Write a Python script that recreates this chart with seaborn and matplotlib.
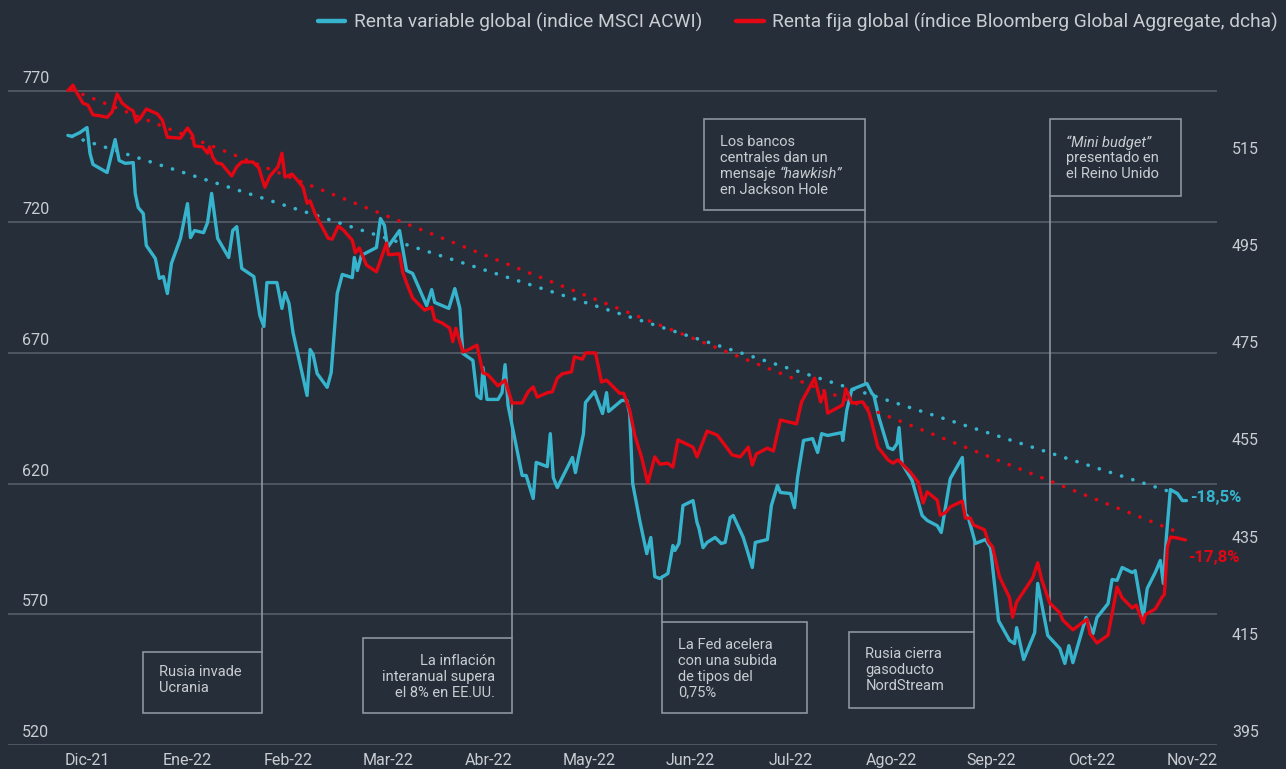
import matplotlib
matplotlib.use("Agg")
import matplotlib.pyplot as plt
import seaborn as sns
from matplotlib.lines import Line2D
from matplotlib.patches import Rectangle

# x in months (0 = Dic-21)
months = ['Dic-21', 'Ene-22', 'Feb-22', 'Mar-22', 'Abr-22', 'May-22', 'Jun-22',
          'Jul-22', 'Ago-22', 'Sep-22', 'Oct-22', 'Nov-22']

acwi_x = [-0.19, -0.15, -0.07, 0.00, 0.03, 0.06, 0.20, 0.28, 0.32, 0.38,
          0.46, 0.48, 0.51, 0.56, 0.59, 0.68, 0.72, 0.76, 0.80, 0.84,
          0.93, 1.00, 1.03, 1.07, 1.16, 1.20, 1.24, 1.30, 1.41, 1.45,
          1.49, 1.54, 1.66, 1.72, 1.76, 1.79, 1.89, 1.94, 1.97, 2.01,
          2.05, 2.19, 2.22, 2.25, 2.29, 2.39, 2.43, 2.49, 2.54, 2.64,
          2.66, 2.69, 2.73, 2.88, 2.92, 2.96, 2.99, 3.11, 3.18, 3.24,
          3.38, 3.43, 3.46, 3.60, 3.66, 3.71, 3.74, 3.84, 3.88, 3.92,
          3.94, 3.98, 4.09, 4.13, 4.16, 4.19, 4.26, 4.33, 4.37, 4.44,
          4.47, 4.58, 4.61, 4.64, 4.68, 4.83, 4.86, 4.89, 4.94, 4.96,
          5.05, 5.13, 5.17, 5.19, 5.32, 5.37, 5.40, 5.43, 5.50, 5.57,
          5.61, 5.65, 5.70, 5.78, 5.83, 5.85, 5.89, 5.93, 6.03, 6.07,
          6.09, 6.13, 6.17, 6.25, 6.31, 6.35, 6.40, 6.43, 6.53, 6.57,
          6.62, 6.65, 6.77, 6.81, 6.87, 6.90, 7.00, 7.04, 7.07, 7.13,
          7.22, 7.27, 7.31, 7.37, 7.51, 7.52, 7.56, 7.61, 7.76, 7.81,
          7.83, 7.88, 7.97, 8.02, 8.06, 8.08, 8.11, 8.21, 8.31, 8.36,
          8.46, 8.50, 8.59, 8.71, 8.74, 8.77, 8.84, 8.94, 8.99, 9.07,
          9.18, 9.23, 9.25, 9.32, 9.43, 9.46, 9.56, 9.68, 9.73, 9.77,
          9.81, 9.94, 10.01, 10.05, 10.16, 10.20, 10.25, 10.30, 10.40, 10.43,
          10.51, 10.55, 10.63, 10.68, 10.71, 10.74, 10.78, 10.85, 10.90, 10.94]
acwi_y = [753.2, 752.8, 754.3, 756.2, 746.3, 742.1, 739.0, 751.6, 743.6, 742.5,
          742.8, 731.0, 725.6, 723.3, 711.1, 706.1, 698.5, 699.2, 692.7, 704.2,
          713.8, 727.1, 714.1, 716.8, 716.0, 719.9, 731.0, 713.8, 706.5, 716.8,
          718.3, 702.3, 699.2, 684.3, 680.1, 696.9, 696.9, 687.0, 693.1, 688.9,
          677.8, 653.7, 671.3, 669.4, 662.1, 656.8, 662.5, 692.7, 700.0, 698.8,
          706.5, 701.5, 707.3, 710.3, 721.4, 718.7, 710.3, 716.8, 701.5, 700.4,
          688.1, 694.2, 689.3, 687.0, 694.6, 687.0, 669.8, 667.1, 653.7, 652.5,
          664.4, 652.2, 652.2, 654.8, 665.5, 649.9, 636.5, 623.1, 623.1, 614.3,
          628.1, 626.5, 639.1, 622.3, 618.5, 630.0, 624.2, 630.0, 639.1, 651.0,
          655.2, 646.8, 654.8, 647.6, 651.8, 651.8, 646.8, 620.0, 605.9, 593.2,
          599.4, 584.4, 583.7, 585.6, 596.3, 594.4, 597.1, 611.6, 613.5, 605.1,
          602.8, 595.5, 597.5, 599.4, 597.1, 597.5, 607.0, 607.8, 599.4, 594.4,
          587.9, 597.5, 598.6, 611.6, 619.3, 616.6, 616.2, 610.8, 622.3, 636.5,
          637.2, 631.9, 639.1, 638.4, 639.5, 636.5, 648.0, 656.0, 658.3, 654.5,
          653.7, 645.3, 633.8, 633.0, 635.3, 641.4, 627.7, 621.2, 607.8, 605.9,
          603.9, 601.3, 621.9, 630.0, 608.5, 607.0, 597.1, 598.6, 595.5, 567.6,
          560.0, 558.8, 564.9, 552.7, 563.0, 581.8, 561.9, 556.9, 551.2, 558.0,
          551.5, 568.8, 562.6, 568.8, 574.1, 583.3, 583.0, 587.9, 586.0, 586.7,
          568.8, 579.9, 586.0, 590.6, 581.8, 599.4, 617.7, 616.2, 613.5, 613.5]

bbg_x = [-0.19, -0.14, -0.10, -0.04, 0.01, 0.06, 0.13, 0.20, 0.25, 0.30,
         0.35, 0.41, 0.46, 0.49, 0.53, 0.59, 0.70, 0.75, 0.80, 0.93,
         1.00, 1.05, 1.07, 1.15, 1.20, 1.22, 1.25, 1.29, 1.34, 1.44,
         1.49, 1.54, 1.65, 1.71, 1.74, 1.77, 1.82, 1.90, 1.94, 1.97,
         2.04, 2.10, 2.15, 2.19, 2.22, 2.27, 2.34, 2.40, 2.44, 2.50,
         2.55, 2.64, 2.67, 2.71, 2.78, 2.88, 2.98, 3.00, 3.11, 3.14,
         3.18, 3.24, 3.36, 3.43, 3.46, 3.53, 3.61, 3.64, 3.67, 3.74,
         3.79, 3.88, 3.94, 3.99, 4.09, 4.16, 4.23, 4.33, 4.39, 4.44,
         4.48, 4.58, 4.63, 4.68, 4.73, 4.82, 4.85, 4.93, 4.96, 5.06,
         5.12, 5.17, 5.30, 5.34, 5.40, 5.45, 5.52, 5.58, 5.65, 5.70,
         5.78, 5.83, 5.88, 6.03, 6.07, 6.17, 6.27, 6.33, 6.42, 6.50,
         6.58, 6.62, 6.66, 6.77, 6.83, 6.90, 7.06, 7.11, 7.24, 7.30,
         7.34, 7.37, 7.52, 7.55, 7.61, 7.72, 7.78, 7.81, 7.87, 7.97,
         8.02, 8.07, 8.19, 8.27, 8.32, 8.36, 8.46, 8.49, 8.54, 8.59,
         8.71, 8.74, 8.79, 8.82, 8.93, 8.97, 9.01, 9.08, 9.18, 9.21,
         9.25, 9.41, 9.46, 9.50, 9.58, 9.68, 9.71, 9.81, 9.95, 9.98,
         10.05, 10.16, 10.25, 10.30, 10.40, 10.44, 10.51, 10.53, 10.63, 10.70,
         10.72, 10.75, 10.78, 10.85, 10.93]
bbg_y = [529.7, 530.8, 529.2, 527.1, 526.7, 524.7, 524.5, 524.2, 525.3, 529.0,
         527.1, 526.1, 525.5, 523.2, 524.0, 525.9, 524.9, 523.6, 520.1, 519.9,
         522.0, 520.5, 518.3, 518.1, 516.8, 518.1, 516.0, 514.8, 514.6, 512.1,
         514.0, 515.0, 515.0, 513.8, 511.7, 509.8, 512.1, 514.0, 516.8, 511.9,
         512.5, 511.1, 509.8, 506.5, 507.0, 504.3, 501.6, 499.3, 499.1, 501.8,
         501.0, 498.9, 496.3, 497.3, 493.8, 492.4, 498.3, 495.9, 496.1, 492.4,
         490.1, 487.0, 484.5, 485.1, 482.5, 481.9, 480.8, 478.0, 480.8, 475.9,
         476.3, 477.3, 471.6, 471.2, 468.9, 470.1, 465.4, 465.4, 467.7, 468.7,
         466.6, 467.5, 467.7, 470.5, 471.4, 471.8, 474.9, 474.4, 475.7, 475.7,
         469.7, 470.1, 467.4, 467.4, 463.9, 458.8, 454.1, 448.9, 454.3, 452.8,
         453.0, 452.2, 457.8, 456.3, 454.3, 459.6, 458.8, 457.2, 454.7, 454.3,
         456.3, 452.6, 454.9, 456.1, 455.5, 461.9, 461.1, 465.6, 470.5, 465.6,
         467.7, 463.3, 465.0, 468.3, 465.4, 465.6, 463.5, 461.3, 456.3, 453.7,
         453.0, 453.7, 451.2, 449.1, 444.8, 447.1, 445.4, 442.3, 442.8, 444.0,
         445.2, 441.7, 441.7, 440.3, 439.3, 436.8, 435.8, 429.6, 425.3, 421.3,
         424.4, 429.4, 432.5, 429.0, 424.2, 422.2, 420.7, 418.7, 420.9, 417.9,
         416.0, 417.6, 427.5, 425.3, 423.2, 423.8, 420.1, 421.8, 423.0, 425.5,
         425.9, 435.8, 437.8, 437.6, 437.2]

# straight trend lines (start / end)
acwi_trend_x = [-0.15, 10.80]
acwi_trend_y = [752.8, 616.6]
bbg_trend_x = [-0.15, 10.88]
bbg_trend_y = [529.8, 438.6]

left_ticks = [520, 570, 620, 670, 720, 770]
right_ticks = [395, 415, 435, 455, 475, 495, 515]

BG = '#262e39'
CYAN = '#36b4cd'
RED = '#e30613'
GRID = '#59626d'
TXT = '#c9cdd2'
BOX = '#8d959e'

sns.set_style("dark")
plt.rcParams['font.family'] = ['Roboto', 'DejaVu Sans']

fig = plt.figure(figsize=(12.86, 7.69), dpi=100, facecolor=BG)
ax = fig.add_axes([8 / 1286, 24 / 769, 1209 / 1286, 666.6 / 769])
ax.set_facecolor(BG)
ax2 = ax.twinx()

# trend lines first, then the series
ax.plot(acwi_trend_x, acwi_trend_y, color=CYAN, lw=2.6, linestyle=(0, (0.05, 3.2)),
        dash_capstyle='round', zorder=2)
ax2.plot(bbg_trend_x, bbg_trend_y, color=RED, lw=2.6, linestyle=(0, (0.05, 3.2)),
         dash_capstyle='round', zorder=2)
sns.lineplot(x=acwi_x, y=acwi_y, ax=ax, color=CYAN, lw=2.4, sort=False,
             estimator=None, zorder=3)
sns.lineplot(x=bbg_x, y=bbg_y, ax=ax2, color=RED, lw=2.4, sort=False,
             estimator=None, zorder=3)

ax.set_xlim(-0.786, 11.244)
ax.set_ylim(520, 775)
ax2.set_ylim(395, 532.2)

for a in (ax, ax2):
    for s in a.spines.values():
        s.set_visible(False)

ax.set_yticks(left_ticks)
ax.yaxis.grid(True, color=GRID, lw=1.1)
ax.xaxis.grid(False)
ax.tick_params(axis='y', left=False, labelleft=False)
ax2.set_yticks(right_ticks)
ax2.tick_params(axis='y', right=False, labelright=False)
ax2.grid(False)

ax.set_xticks(range(len(months)))
ax.set_xticklabels(months)
ax.tick_params(axis='x', length=0, pad=6, labelsize=11.5, labelcolor=TXT)

for v in left_ticks:
    ax.annotate(str(v), xy=(0, v), xycoords=ax.get_yaxis_transform(),
                xytext=(14, 5), textcoords='offset pixels', ha='left', va='bottom',
                fontsize=11.5, color=TXT)
for v in right_ticks:
    ax2.annotate(str(v), xy=(1, v), xycoords=ax2.get_yaxis_transform(),
                 xytext=(15, 5), textcoords='offset pixels', ha='left', va='bottom',
                 fontsize=11.5, color=TXT, annotation_clip=False)

# end-of-line changes
ax.text(10.98, 614.7, '-18,5%', color=CYAN, fontsize=12, fontweight='bold',
        ha='left', va='center')
ax.text(10.96, 591.7, '-17,8%', color=RED, fontsize=12, fontweight='bold',
        ha='left', va='center')

# annotation boxes: (x0, y0, x1, y1), connector x, connector end y
boxes = [
    ((0.557, 532.2, 1.741, 555.4), 1.741, 555.4, 679.7),
    ((2.746, 532.2, 4.229, 561.1), 4.229, 561.1, 650.6),
    ((5.721, 532.2, 7.164, 567.2), 5.721, 567.2, 584.8),
    ((7.582, 534.3, 8.826, 563.4), 8.826, 563.4, 597.1),
    ((6.139, 724.5, 7.741, 759.3), 7.741, 724.5, 658.3),
    ((9.582, 730.2, 10.886, 759.3), 9.582, 730.2, 567.6),
]
for (x0, y0, x1, y1), lx, ly0, ly1 in boxes:
    ax.add_patch(Rectangle((x0, y0), x1 - x0, y1 - y0, fill=False, ec=BOX,
                           lw=1.2, zorder=1))
    ax.plot([lx, lx], [ly0, ly1], color=BOX, lw=1.2, zorder=1)

FS = 10.5
LH = 16  # pixels between lines


def lines(x, y, rows, ha='left'):
    for i, row in enumerate(rows):
        ax.annotate(row, xy=(x, y), xycoords='data', xytext=(0, -LH * i),
                    textcoords='offset pixels', ha=ha, va='center',
                    fontsize=FS, color=TXT)


lines(0.716, 547.9, ['Rusia invade', 'Ucrania'])
lines(4.06, 552.3, ['La inflación', 'interanual supera', 'el 8% en EE.UU.'], ha='right')
lines(7.746, 554.8, ['Rusia cierra', 'gasoducto', 'NordStream'])
lines(5.88, 558.4, ['La Fed acelera', 'con una subida', 'de tipos del', '0,75%'])

# Jackson Hole box with italic word
lines(6.30, 750.5, ['Los bancos', 'centrales dan un'])
t = ax.annotate('mensaje ', xy=(6.30, 750.5), xytext=(0, -2 * LH),
                textcoords='offset pixels', ha='left', va='center', fontsize=FS, color=TXT)
ax.annotate('“hawkish”', xy=(1, 0.5), xycoords=t, ha='left', va='center',
            fontsize=FS, color=TXT, style='italic')
ax.annotate('en Jackson Hole', xy=(6.30, 750.5), xytext=(0, -3 * LH),
            textcoords='offset pixels', ha='left', va='center', fontsize=FS, color=TXT)

# Mini budget box
ax.annotate('“Mini budget”', xy=(9.74, 750.5), ha='left', va='center',
            fontsize=FS, color=TXT, style='italic')
ax.annotate('presentado en', xy=(9.74, 750.5), xytext=(0, -LH),
            textcoords='offset pixels', ha='left', va='center', fontsize=FS, color=TXT)
ax.annotate('el Reino Unido', xy=(9.74, 750.5), xytext=(0, -2 * LH),
            textcoords='offset pixels', ha='left', va='center', fontsize=FS, color=TXT)

handles = [Line2D([], [], color=CYAN, lw=3.2), Line2D([], [], color=RED, lw=3.2)]
fig.legend(handles, ['Renta variable global (indice MSCI ACWI)',
                     'Renta fija global (índice Bloomberg Global Aggregate, dcha)'],
           loc='upper right', bbox_to_anchor=(1278 / 1286, 1 - 13 / 769), ncol=2,
           frameon=False, handlelength=1.45, handletextpad=0.42, columnspacing=1.8,
           fontsize=13.8, labelcolor=TXT, borderpad=0, borderaxespad=0)

fig.savefig('out.png', dpi=100, facecolor=BG)
